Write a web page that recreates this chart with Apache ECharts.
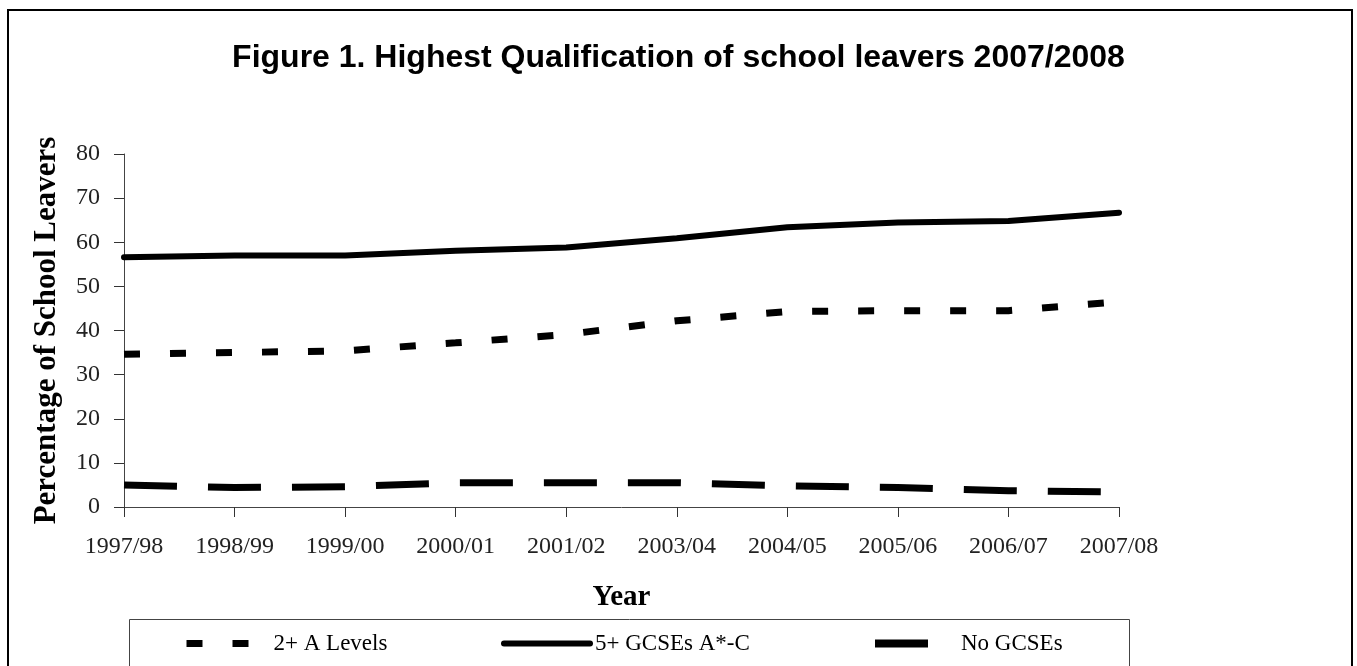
<!DOCTYPE html>
<html>
<head>
<meta charset="utf-8">
<script src="https://cdn.jsdelivr.net/npm/echarts@6/dist/echarts.min.js"></script>
<style>
  html, body { margin: 0; padding: 0; background: #fff; }
  #chart { width: 1357px; height: 666px; }
</style>
</head>
<body>
<div id="chart"></div>
<script>
// values
const years = ['1997/98','1998/99','1999/00','2000/01','2001/02','2003/04','2004/05','2005/06','2006/07','2007/08'];
const aLevels = [34.6, 35.0, 35.4, 37.2, 39.1, 42.2, 44.3, 44.5, 44.5, 46.5];
const gcses5 = [56.6, 57.0, 57.0, 58.1, 58.8, 60.9, 63.4, 64.5, 64.8, 66.7];
const noGcses = [5.0, 4.4, 4.6, 5.5, 5.5, 5.5, 4.8, 4.4, 3.7, 3.4];
const yTicks = [0, 10, 20, 30, 40, 50, 60, 70, 80];

const serif = '"Liberation Serif", "Times New Roman", serif';

let myChart = echarts.init(document.getElementById('chart'));

// one legend per series so each item sits where it does in the figure
function legendAt(name, left, padLeft, width, lineWidth) {
  return {
    data: [name],
    left: left,
    top: 632,
    padding: 0,
    itemWidth: width,
    itemHeight: 14,
    lineStyle: { width: lineWidth },
    itemStyle: { opacity: 0 },
    textStyle: { fontFamily: serif, fontSize: 23, color: '#000', padding: [0, 0, 0, padLeft] }
  };
}

let option = {
  animation: false,
  backgroundColor: '#fff',
  title: {
    text: 'Figure 1. Highest Qualification of school leavers 2007/2008',
    left: 'center',
    top: 37,
    textStyle: { fontFamily: '"Liberation Sans", Arial, sans-serif', fontSize: 32, fontWeight: 'bold', color: '#000' }
  },
  graphic: [
    { type: 'rect', shape: { x: 8, y: 10, width: 1344, height: 680 }, style: { fill: 'none', stroke: '#000', lineWidth: 2 }, silent: true },
    { type: 'rect', shape: { x: 129.5, y: 619.5, width: 1000, height: 80 }, style: { fill: 'none', stroke: '#444', lineWidth: 1 }, silent: true }
  ],
  legend: [
    legendAt('2+ A Levels', 183, 19, 63, 7),
    legendAt('5+ GCSEs A*-C', 501, 0, 86, 6),
    legendAt('No GCSEs', 871, 28, 53, 8)
  ],
  grid: { left: 124, right: 238, top: 154, bottom: 159 },
  xAxis: {
    type: 'category',
    data: years,
    boundaryGap: false,
    name: 'Year',
    nameLocation: 'middle',
    nameGap: 76,
    nameTextStyle: { fontFamily: serif, fontSize: 29, fontWeight: 'bold', color: '#000' },
    axisLine: { lineStyle: { color: '#444', width: 1 } },
    axisTick: { length: 10, lineStyle: { color: '#333' } },
    axisLabel: { interval: 0, margin: 28, fontFamily: serif, fontSize: 24, color: '#222' }
  },
  yAxis: {
    type: 'value',
    min: yTicks[0],
    max: yTicks[yTicks.length - 1],
    interval: 10,
    name: 'Percentage of School Leavers',
    nameLocation: 'middle',
    nameGap: 62,
    nameTextStyle: { fontFamily: serif, fontSize: 31, fontWeight: 'bold', color: '#000' },
    axisLine: { show: true, lineStyle: { color: '#444', width: 1 } },
    axisTick: { show: true, length: 10, lineStyle: { color: '#333' } },
    splitLine: { show: false },
    axisLabel: { margin: 24, fontFamily: serif, fontSize: 24, color: '#222' }
  },
  series: [
    {
      name: '2+ A Levels',
      type: 'line',
      data: aLevels,
      symbol: 'none',
      lineStyle: { color: '#000', width: 7, type: [16, 30] },
      itemStyle: { color: '#000' }
    },
    {
      name: '5+ GCSEs A*-C',
      type: 'line',
      data: gcses5,
      symbol: 'none',
      lineStyle: { color: '#000', width: 6, cap: 'round' },
      itemStyle: { color: '#000' }
    },
    {
      name: 'No GCSEs',
      type: 'line',
      data: noGcses,
      symbol: 'none',
      lineStyle: { color: '#000', width: 7, type: [53, 31] },
      itemStyle: { color: '#000' }
    }
  ]
};

myChart.setOption(option);
</script>
</body>
</html>
